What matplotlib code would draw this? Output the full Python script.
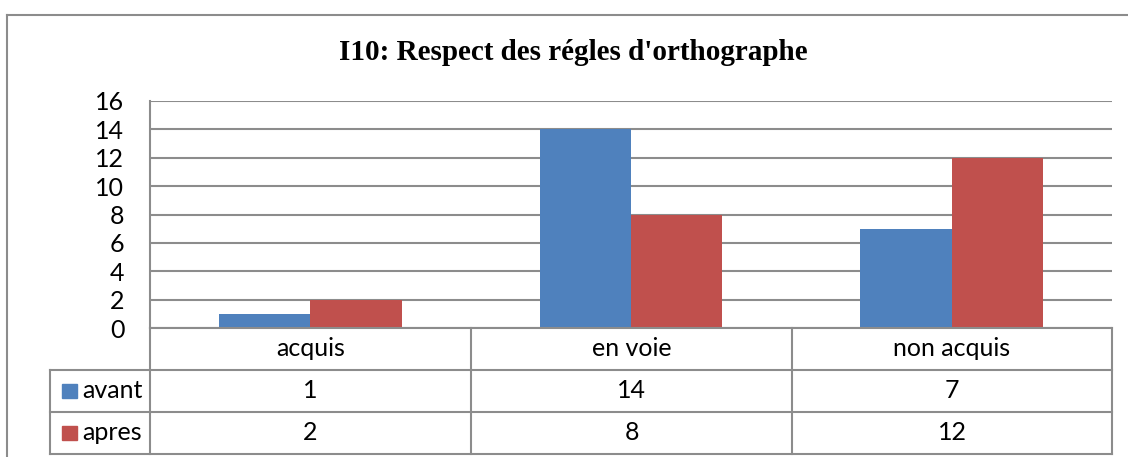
import matplotlib.pyplot as plt
from matplotlib.lines import Line2D
from matplotlib.patches import Rectangle

# data
categories = ['acquis', 'en voie', 'non acquis']
series_names = ['avant', 'apres']
avant = [1, 14, 7]
apres = [2, 8, 12]
colors = ['#4F81BD', '#C0504D']
title = "I10: Respect des régles d'orthographe"

W, H = 1128, 457
fig = plt.figure(figsize=(W / 100, H / 100), dpi=100)

def fx(px):
    return px / W

def fy(py):
    return 1 - py / H

grid_col = '#8C8C8C'
font = 'Lato'
fs = 18

# plot area (pixel positions measured on the reference)
left, right, top, bottom = 150, 1112, 101, 328
ax = fig.add_axes([fx(left), fy(bottom), fx(right) - fx(left), fy(top) - fy(bottom)])

x = range(len(categories))
bw = 0.285
ax.bar([i - bw / 2 for i in x], avant, width=bw, color=colors[0], zorder=3)
ax.bar([i + bw / 2 for i in x], apres, width=bw, color=colors[1], zorder=3)

ax.set_xlim(-0.5, len(categories) - 0.5)
ax.set_ylim(0, 16)
ax.set_yticks(range(0, 17, 2))
ax.set_xticks([])
ax.yaxis.grid(True, color=grid_col, linewidth=1.5, zorder=0)
for s in ['top', 'right', 'bottom']:
    ax.spines[s].set_visible(False)
ax.spines['left'].set_color(grid_col)
ax.spines['left'].set_linewidth(1.5)
ax.tick_params(axis='y', length=0, pad=18.5, labelsize=fs)
for lab in ax.get_yticklabels():
    lab.set_fontfamily(font)

# data table under the plot
col_edges = [150, 471, 792, 1112]
row_edges = [328, 370, 412, 454]
lab_left = 50

def line(x0, y0, x1, y1):
    fig.add_artist(Line2D([fx(x0), fx(x1)], [fy(y0), fy(y1)], color=grid_col,
                          linewidth=1.5, transform=fig.transFigure))

for ry in row_edges:
    x0 = col_edges[0] if ry == row_edges[0] else lab_left
    line(x0, ry, col_edges[-1], ry)
for cx in col_edges:
    line(cx, row_edges[0], cx, row_edges[-1])
line(lab_left, row_edges[1], lab_left, row_edges[-1])

for i, cat in enumerate(categories):
    cx = (col_edges[i] + col_edges[i + 1]) / 2
    fig.text(fx(cx), fy((row_edges[0] + row_edges[1]) / 2), cat, ha='center',
             va='center', fontsize=fs, family=font)
    for r, vals in enumerate([avant, apres]):
        cy = (row_edges[r + 1] + row_edges[r + 2]) / 2
        fig.text(fx(cx), fy(cy), str(vals[i]), ha='center', va='center',
                 fontsize=fs, family=font)

for r, name in enumerate(series_names):
    cy = (row_edges[r + 1] + row_edges[r + 2]) / 2
    fig.add_artist(Rectangle((fx(62), fy(cy + 7)), fx(15), fy(cy - 7) - fy(cy + 7),
                             color=colors[r], transform=fig.transFigure))
    fig.text(fx(82), fy(cy), name, ha='left', va='center', fontsize=fs, family=font)

# title
fig.text(fx(573), fy(53), title, ha='center', va='center', fontsize=21,
         fontweight='bold', family='Liberation Serif')

# outer chart border (cut by the image edges)
line(7, 15, W + 5, 15)
line(7, 15, 7, H + 5)

fig.savefig('out.png', dpi=100)
